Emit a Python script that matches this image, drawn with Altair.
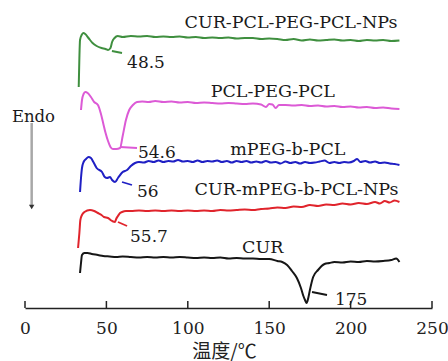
import altair as alt
import pandas as pd

# ---- data (temperature in deg C, signal in arbitrary offset units) ----
green_T = [33.0, 33.4, 33.8, 34.8, 35.8, 37.0, 39.0, 41.5, 44.0, 47.0, 49.5, 51.0, 52.5, 53.5, 55.0, 57.0,
           60, 65, 70, 75, 80, 85, 90, 95, 100, 105, 110, 115, 120, 125, 130, 135, 140, 145, 150, 155,
           160, 165, 170, 175, 180, 185, 190, 195, 200, 205, 210, 215, 220, 225, 230]
green_s = [221, 250, 268, 273, 275, 274, 270, 265, 262, 260, 259, 258, 260, 266, 270, 272,
           271, 272, 271.5, 272, 271, 271.5, 271, 271.5, 270.5, 271, 270, 270.5, 270, 270.5, 269.5, 270, 270, 269, 269.5, 269,
           268, 269, 267.5, 268.5, 267.5, 268, 268.5, 267.5, 268, 267, 268, 267.5, 268, 267, 267.5]

pink_T = [34.4, 35.0, 36.0, 37.0, 38.5, 40.5, 42.5, 44.8, 46.5, 48.0, 49.5, 51.0, 52.5, 54.0, 56.0, 58.4,
          60.0, 62.0, 64.0, 66.3, 68.8, 72, 76, 80, 85, 90, 95, 100, 105, 110, 115, 120, 125, 130, 135,
          140, 145, 148, 150, 152, 154, 156, 160, 165, 170, 175, 180, 185, 190, 195, 200, 205, 210, 215,
          220, 225, 230]
pink_s = [198, 208, 214, 216, 215, 211, 206, 203, 195, 185, 175, 167, 161, 159, 159, 160,
          172, 188, 198, 203, 206, 206.5, 206, 207, 206, 206.5, 205.5, 206, 205, 205.5, 205, 204.5, 205, 204.5, 204,
          204.5, 203.5, 201, 204, 203.5, 200, 203, 203, 202.5, 203, 202, 202.5, 201.5, 202, 201, 201.5, 200.5, 201, 200,
          200.5, 199.5, 199]

blue_T = [33.8, 34.4, 35.0, 36.0, 37.5, 39.0, 40.5, 42.0, 44.0, 47.3, 49.0, 50.4, 52.2, 53.5, 55.3, 57.1,
          60.0, 62.7, 65, 67.6, 70, 73, 76, 79, 82, 85, 88, 91, 94, 97, 100, 103, 106, 109, 112, 115, 118,
          121, 124, 127, 130, 133, 136, 139, 142, 145, 148, 151, 154, 157, 160, 163, 166, 169, 172, 175,
          178, 181, 184, 187, 190, 193, 196, 199, 202, 204, 206, 209, 212, 215, 218, 221, 224, 227, 230]
blue_s = [116, 130, 140, 146, 149, 151, 150, 146, 140, 136, 131, 130, 131, 128, 126, 130,
          136, 138, 142, 145, 146, 145.5, 147, 146, 147.5, 146, 147, 146.5, 148, 146.5, 147, 146, 147.5, 146, 147, 146.5, 147.5,
          146, 147, 145.5, 147, 146, 147, 145.5, 146.5, 145.5, 147, 145.5, 146, 144.5, 146.5, 145, 146, 144.5, 146, 145,
          145.5, 146.5, 147.5, 145, 146, 145, 146, 145.5, 147, 149, 146, 147, 145.5, 146.5, 145, 145.5, 144.5, 144, 143]

red_T = [32.6, 33.4, 34.0, 35.0, 36.5, 39.9, 42.5, 44.8, 47.0, 48.5, 51.0, 52.5, 55.3, 56.0, 57.1, 58.4,
         59.6, 62, 65, 70, 75, 80, 85, 90, 95, 100, 105, 110, 115, 120, 125, 130, 135, 140, 145, 150,
         155, 160, 165, 170, 175, 180, 185, 190, 195, 200, 205, 210, 215, 218, 221, 224, 227, 230]
red_s = [60, 75, 88, 93, 96, 98, 97, 95, 93, 91, 90, 88, 86, 89, 92, 95,
         96, 97, 97, 97.5, 97, 97.5, 97, 97.5, 97, 97.5, 97, 97.5, 97, 98, 97.5, 98, 98.5, 98, 99, 99.5,
         100.5, 100, 101.5, 101, 103, 102, 103.5, 103, 104.5, 103.5, 105, 104, 106, 104.5, 107, 105.5, 107.5, 106]

black_T = [33.8, 34.4, 35.0, 36.5, 38.5, 41, 44.8, 48, 52, 56, 60, 65, 70, 75, 80, 85, 90, 95, 100, 105,
           110, 115, 120, 125, 130, 135, 140, 145, 150, 155, 158, 161, 164, 167, 169.5, 171, 172, 173,
           174, 175, 177, 180, 184, 187, 190, 195, 200, 205, 210, 215, 220, 225, 228, 230]
black_s = [35, 45, 53, 55, 55, 54, 53, 52, 51.5, 51, 51.5, 51, 50.5, 51, 50.5, 51, 50.5, 51, 50.5, 50,
           50.5, 50, 50.5, 49.5, 50, 49.5, 49.5, 49, 49, 47, 46, 43, 37, 30, 20, 12, 8, 5,
           10, 18, 31, 38, 44, 45, 46, 45.5, 46.5, 46, 47, 46.5, 47, 48, 49.5, 46]

series_names = ["CUR-PCL-PEG-PCL-NPs", "PCL-PEG-PCL", "mPEG-b-PCL", "CUR-mPEG-b-PCL-NPs", "CUR"]
series_colors = ["#3f8f3f", "#dc5ad6", "#1f1fc4", "#e0242c", "#161616"]

# curve-name labels (centre x, baseline)
name_T = [163.4, 152.2, 161.4, 166.8, 146.0]
name_s = [280, 211, 153, 113, 55]

# peak labels (left x, baseline) and leader lines
peak_text = ["48.5", "54.6", "56", "55.7", "175"]
peak_T = [62.7, 69.4, 68.8, 64.5, 190.4]
peak_s = [240, 150, 111, 66, 3]
leader_T1 = [53.4, 58.4, 59.6, 57.1, 176.3]
leader_s1 = [257, 161, 126, 86, 16]
leader_T2 = [59.6, 68.8, 65.7, 62.7, 185.5]
leader_s2 = [255, 160, 123, 82, 13]

tick_values = [0, 50, 100, 150, 200, 250]

# ---- tables ----
curves = []
for name, T, s in zip(series_names,
                      [green_T, pink_T, blue_T, red_T, black_T],
                      [green_s, pink_s, blue_s, red_s, black_s]):
    for i, (t, v) in enumerate(zip(T, s)):
        curves.append({"series": name, "T": t, "s": v, "i": i})
curves = pd.DataFrame(curves)

names_df = pd.DataFrame({"series": series_names, "T": name_T, "s": name_s})
peaks_df = pd.DataFrame({"series": series_names, "text": peak_text, "T": peak_T, "s": peak_s})
leaders = []
for k, name in enumerate(series_names):
    leaders.append({"series": name, "T": leader_T1[k], "s": leader_s1[k], "i": 0})
    leaders.append({"series": name, "T": leader_T2[k], "s": leader_s2[k], "i": 1})
leaders = pd.DataFrame(leaders)
ticks_df = pd.DataFrame({"T": tick_values, "s0": [0] * 6, "s1": [7] * 6})

xs = alt.Scale(domain=[0, 250], nice=False, zero=False)
ys = alt.Scale(domain=[0, 308], nice=False, zero=False)
cs = alt.Scale(domain=series_names, range=series_colors)

SERIF = "DejaVu Serif"

base_x = alt.X("T:Q", scale=xs,
               axis=alt.Axis(values=tick_values, ticks=False, grid=False, domainColor="#222",
                             domainWidth=1.5, labelFont=SERIF, labelFontSize=17, labelColor="#222",
                             labelBaseline="alphabetic", labelPadding=25, labelFlush=False,
                             title="温度/℃", titleFont="Noto Sans CJK SC", titleFontSize=19,
                             titleFontWeight="normal", titleColor="#222", titleBaseline="alphabetic",
                             titleY=49, titleX=199))
base_y = alt.Y("s:Q", scale=ys, axis=None)

lines = alt.Chart(curves).mark_line(strokeWidth=2, strokeJoin="round", interpolate="monotone").encode(
    x=base_x, y=base_y,
    color=alt.Color("series:N", scale=cs, legend=None),
    detail="series:N", order="i:Q")

lead = alt.Chart(leaders).mark_line(strokeWidth=1.8).encode(
    x=alt.X("T:Q", scale=xs), y=alt.Y("s:Q", scale=ys),
    color=alt.Color("series:N", scale=cs, legend=None),
    detail="series:N", order="i:Q")

name_text = alt.Chart(names_df).mark_text(font=SERIF, fontSize=17.5, align="center",
                                          baseline="alphabetic", color="#1a1a1a").encode(
    x=alt.X("T:Q", scale=xs), y=alt.Y("s:Q", scale=ys), text="series:N")

peak_lbl = alt.Chart(peaks_df).mark_text(font=SERIF, fontSize=17, align="left",
                                         baseline="alphabetic", color="#1a1a1a").encode(
    x=alt.X("T:Q", scale=xs), y=alt.Y("s:Q", scale=ys), text="text:N")

tick_rules = alt.Chart(ticks_df).mark_rule(color="#222", strokeWidth=1.5).encode(
    x=alt.X("T:Q", scale=xs), y=alt.Y("s0:Q", scale=ys), y2="s1:Q")

endo_df = pd.DataFrame({"T": [5.2], "s": [186], "text": ["Endo"]})
endo_text = alt.Chart(endo_df).mark_text(font=SERIF, fontSize=16.5, align="center",
                                         baseline="alphabetic", color="#1a1a1a").encode(
    x=alt.X("T:Q", scale=xs), y=alt.Y("s:Q", scale=ys), text="text:N")

arrow_df = pd.DataFrame({"T": [4.1], "s_top": [185], "s_bot": [103], "s_head": [101]})
arrow_line = alt.Chart(arrow_df).mark_rule(color="#a8a8a8", strokeWidth=2.5).encode(
    x=alt.X("T:Q", scale=xs), y=alt.Y("s_top:Q", scale=ys), y2="s_bot:Q")
arrow_head = alt.Chart(arrow_df).mark_point(shape="triangle-down", filled=True, size=30,
                                            color="#333", opacity=1).encode(
    x=alt.X("T:Q", scale=xs), y=alt.Y("s_head:Q", scale=ys))

chart = alt.layer(lines, lead, tick_rules, name_text, peak_lbl, endo_text, arrow_line, arrow_head).properties(
    width=407, height=308,
    padding={"left": 25, "top": 0, "right": 16, "bottom": 53},
    autosize=alt.AutoSizeParams(type="none"),
    background="white",
).configure_view(stroke=None)

chart.save("out.html", embed_options={"renderer": "svg", "actions": False})
